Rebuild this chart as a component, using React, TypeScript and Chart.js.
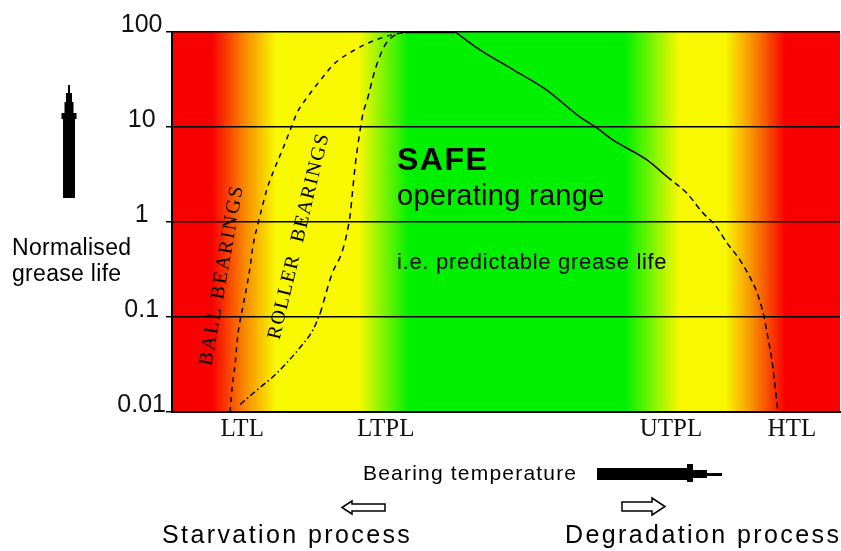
import { useEffect, useRef } from "react";
import { Chart, registerables } from "chart.js";

Chart.register(...registerables);

// ---- data ----
const lifeTicks = [0.01, 0.1, 1, 10, 100];
const lifeTickLabels = ["0.01", "0.1", "1", "10", "100"];

const tempMarks = [10.5, 32.0, 74.7, 92.8];
const tempMarkLabels = ["LTL", "LTPL", "UTPL", "HTL"];

// ball bearings (left dashed curve)
const ballTemp = [8.7, 9.0, 9.4, 9.9, 10.6, 11.2, 11.7, 12.1, 12.9, 13.5, 14.2, 15.1, 16.5, 17.7, 18.7, 19.9, 22.2, 24.4, 27.4, 30.4, 33.4, 35.6];
const ballLife = [0.01, 0.018, 0.03, 0.068, 0.127, 0.21, 0.34, 0.55, 0.98, 1.44, 2.2, 3.3, 5.7, 9.3, 14, 19, 31, 47, 65, 82, 95, 100];

// roller bearings: lower dash-dot part, upper dashed part
const rollerLowTemp = [10.2, 12.7, 15.4, 17.2, 19.2, 21.1, 22.2];
const rollerLowLife = [0.012, 0.017, 0.0245, 0.033, 0.048, 0.073, 0.11];
const rollerHighTemp = [22.2, 24.0, 25.4, 26.2, 26.7, 27.0, 27.4, 28.1, 28.6, 29.2, 30.4, 31.9, 33.4, 34.9];
const rollerHighLife = [0.11, 0.29, 0.47, 0.77, 1.24, 2.0, 3.8, 8.7, 14, 19, 40, 73, 93, 100];

// plateau at the top
const plateauTemp = [34.9, 42.4];
const plateauLife = [100, 100];

// high temperature decline: solid part then dashed part
const declineTemp = [42.4, 46.1, 51.1, 56.1, 61.1, 63.6, 66.0, 71.1, 74.1];
const declineLife = [100, 65, 40, 24.5, 12.7, 9.8, 7.3, 4.5, 3.0];
const dropTemp = [74.1, 77.1, 79.5, 81.3, 83.1, 85.0, 86.5, 87.6, 88.5, 89.2, 89.8, 90.3, 90.7];
const dropLife = [3.0, 2.0, 1.24, 0.93, 0.6, 0.4, 0.264, 0.179, 0.11, 0.0615, 0.0352, 0.0183, 0.01];

// background zones
const zoneStops = [0, 0.06, 0.11, 0.155, 0.28, 0.355, 0.678, 0.76, 0.828, 0.87, 0.918, 1];
const zoneColors = [
  "rgb(248,0,0)",
  "rgb(248,0,0)",
  "rgb(248,140,0)",
  "rgb(248,248,0)",
  "rgb(248,248,0)",
  "rgb(0,240,0)",
  "rgb(0,240,0)",
  "rgb(248,248,0)",
  "rgb(248,248,0)",
  "rgb(248,140,0)",
  "rgb(248,0,0)",
  "rgb(248,0,0)",
];

const SANS = "'Liberation Sans', Arial, sans-serif";
const SERIF = "'Liberation Serif', 'Times New Roman', serif";

const pts = (xs: number[], ys: number[]) => xs.map((x, i) => ({ x, y: ys[i] }));

const zonesPlugin = {
  id: "zones",
  beforeDraw(chart: any) {
    const { ctx, chartArea: a } = chart;
    const g = ctx.createLinearGradient(a.left, 0, a.right, 0);
    zoneStops.forEach((s, i) => g.addColorStop(s, zoneColors[i]));
    ctx.save();
    ctx.fillStyle = g;
    ctx.fillRect(a.left, a.top, a.right - a.left, a.bottom - a.top);
    ctx.restore();
  },
};

function text(ctx: any, s: string, x: number, y: number, font: string, spacing = 0) {
  ctx.font = font;
  ctx.letterSpacing = spacing + "px";
  ctx.fillText(s, x, y);
}

function poly(ctx: any, p: number[][], fill: string, stroke?: string) {
  ctx.beginPath();
  ctx.moveTo(p[0][0], p[0][1]);
  for (let i = 1; i < p.length; i++) ctx.lineTo(p[i][0], p[i][1]);
  ctx.closePath();
  ctx.fillStyle = fill;
  ctx.fill();
  if (stroke) {
    ctx.strokeStyle = stroke;
    ctx.lineWidth = 1.5;
    ctx.stroke();
  }
}

const notesPlugin = {
  id: "notes",
  afterDraw(chart: any) {
    const ctx = chart.ctx;
    ctx.save();
    ctx.fillStyle = "#000";
    ctx.textAlign = "left";
    ctx.textBaseline = "alphabetic";

    // vertical arrow
    poly(ctx, [
      [68, 85], [70, 85], [70, 93], [72, 93], [72, 102], [73.5, 102], [73.5, 113], [76.5, 113], [76.5, 119],
      [75, 119], [75, 198], [63, 198], [63, 119], [61.5, 119], [61.5, 113], [64.5, 113], [64.5, 102], [66, 102],
      [66, 93], [68, 93],
    ], "#000");

    ctx.fillStyle = "#000";
    text(ctx, "Normalised", 12, 255, `23px ${SANS}`, 0.3);
    text(ctx, "grease life", 12, 281, `23px ${SANS}`, 0.3);

    text(ctx, "SAFE", 397, 170, `bold 32px ${SANS}`, 1.5);
    text(ctx, "operating range", 397, 205, `29px ${SANS}`, 0.3);
    text(ctx, "i.e. predictable grease life", 397, 269, `22px ${SANS}`, 0.7);

    // rotated labels
    ctx.save();
    ctx.translate(222, 275);
    ctx.rotate((-80 * Math.PI) / 180);
    ctx.textAlign = "center";
    ctx.textBaseline = "middle";
    text(ctx, "BALL BEARINGS", 0, 0, `20px ${SERIF}`, 2);
    ctx.restore();

    ctx.save();
    ctx.translate(299, 236);
    ctx.rotate((-76.5 * Math.PI) / 180);
    ctx.textAlign = "center";
    ctx.textBaseline = "middle";
    text(ctx, "ROLLER  BEARINGS", 0, 0, `20px ${SERIF}`, 1.5);
    ctx.restore();

    ctx.textAlign = "left";
    ctx.textBaseline = "alphabetic";
    ctx.fillStyle = "#000";
    text(ctx, "Bearing temperature", 363, 480, `21px ${SANS}`, 1.2);

    // big horizontal arrow
    poly(ctx, [
      [597, 468], [687, 468], [687, 464], [693, 464], [693, 470], [707, 470], [707, 473], [722, 473],
      [722, 476], [707, 476], [707, 478], [693, 478], [693, 482], [687, 482], [687, 480], [597, 480],
    ], "#000");

    // hollow arrows
    poly(ctx, [[342, 507.5], [352, 501], [352, 504], [385, 504], [385, 511], [352, 511], [352, 514]], "#fff", "#000");
    poly(ctx, [[622, 502], [652, 502], [652, 498], [665, 506.5], [652, 515], [652, 511], [622, 511]], "#fff", "#000");

    ctx.fillStyle = "#000";
    text(ctx, "Starvation process", 162, 543, `25px ${SANS}`, 2.4);
    text(ctx, "Degradation process", 565, 543, `25px ${SANS}`, 2.4);
    ctx.restore();
  },
};

export default function App() {
  const ref = useRef<HTMLCanvasElement | null>(null);

  useEffect(() => {
    document.body.style.margin = "0";
    const canvas = ref.current;
    if (!canvas) return;
    const line = (data: any[], dash: number[], width = 1.5) => ({
      data,
      borderColor: "#000",
      borderWidth: width,
      borderDash: dash,
      pointRadius: 0,
      fill: false,
      cubicInterpolationMode: "monotone" as const,
    });
    const chart = new Chart(canvas, {
      type: "line",
      data: {
        datasets: [
          line(pts(ballTemp, ballLife), [5, 5]),
          line(pts(rollerLowTemp, rollerLowLife), [6, 3, 1.5, 3]),
          line(pts(rollerHighTemp, rollerHighLife), [6, 5]),
          line(pts(plateauTemp, plateauLife), [], 2.5),
          line(pts(declineTemp, declineLife), [], 1.5),
          line(pts(dropTemp, dropLife), [6, 4]),
        ],
      },
      options: {
        animation: false,
        responsive: false,
        devicePixelRatio: 1,
        layout: { padding: { left: 0, top: 32, right: 1, bottom: 0 } },
        plugins: { legend: { display: false }, tooltip: { enabled: false } },
        scales: {
          x: {
            type: "linear",
            min: 0,
            max: 100,
            afterFit: (s: any) => {
              s.height = 139;
            },
            afterBuildTicks: (s: any) => {
              s.ticks = tempMarks.map((v) => ({ value: v }));
            },
            ticks: {
              callback: (_v: any, i: number) => tempMarkLabels[i],
              font: { family: "'Liberation Serif', serif", size: 25 },
              color: "#111",
              padding: -6,
              maxRotation: 0,
              autoSkip: false,
            },
            grid: { display: false },
            border: { display: true, color: "#000", width: 2 },
          },
          y: {
            type: "logarithmic",
            min: 0.01,
            max: 100,
            afterFit: (s: any) => {
              s.width = 172;
            },
            afterBuildTicks: (s: any) => {
              s.ticks = lifeTicks.map((v) => ({ value: v, major: true }));
            },
            ticks: {
              callback: (_v: any, i: number) => lifeTickLabels[i],
              font: { family: "'Liberation Sans', sans-serif", size: 25 },
              color: "#111",
              padding: 0,
              crossAlign: "center",
              labelOffset: -7,
              autoSkip: false,
            },
            grid: { color: "#000", lineWidth: 1.5, tickLength: 6, drawTicks: true },
            border: { display: true, color: "#000", width: 2 },
          },
        },
      },
      plugins: [zonesPlugin, notesPlugin],
    } as any);
    return () => chart.destroy();
  }, []);

  return (
    <div style={{ position: "absolute", left: 0, top: 0, width: 841, height: 551 }}>
      <canvas ref={ref} width={841} height={551} style={{ width: 841, height: 551 }} />
    </div>
  );
}
